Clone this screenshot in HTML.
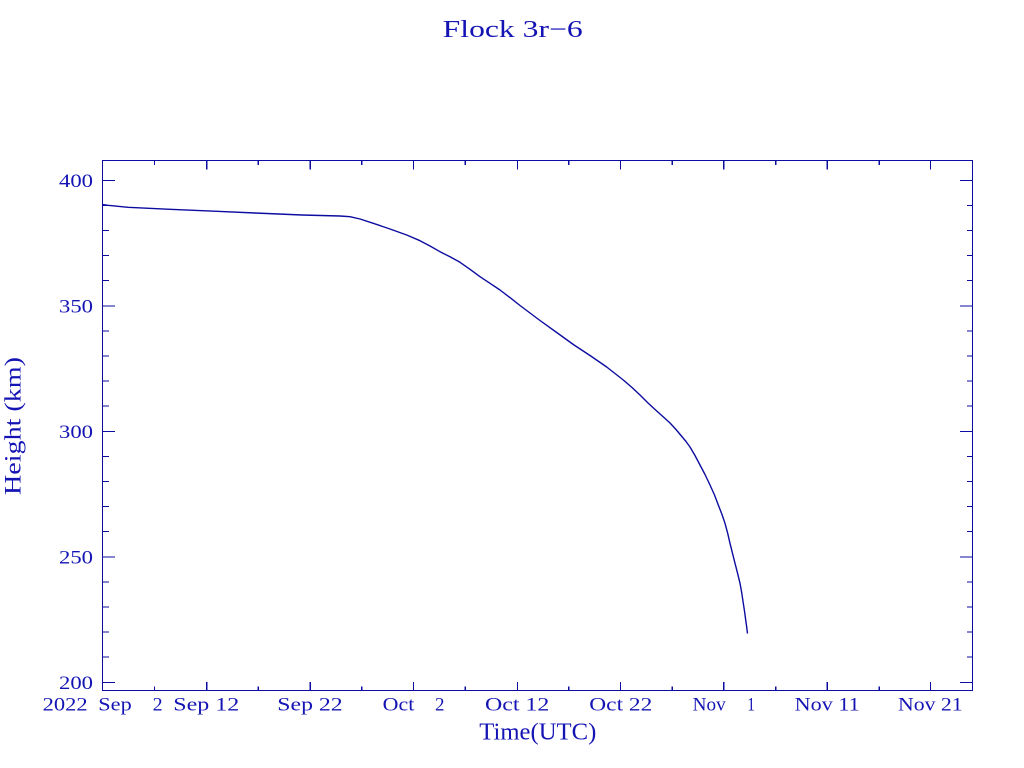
<!DOCTYPE html>
<html>
<head>
<meta charset="utf-8">
<style>
  html, body { margin: 0; padding: 0; background: #ffffff; }
  body { width: 1024px; height: 768px; overflow: hidden; }
  svg { display: block; }
  text { font-family: "Liberation Serif", "DejaVu Serif", serif; fill: #1414b4; }
</style>
</head>
<body>
<svg width="1024" height="768" viewBox="0 0 1024 768" xmlns="http://www.w3.org/2000/svg">
  <rect x="0" y="0" width="1024" height="768" fill="#ffffff"/>

  <!-- Title -->
  <text x="442.7" y="37" font-size="24" textLength="140" lengthAdjust="spacingAndGlyphs">Flock 3r−6</text>

  <!-- Frame -->
  <g stroke="#0c0ca0" stroke-width="1.3" fill="none" shape-rendering="crispEdges">
    <rect x="102.5" y="160.5" width="870" height="530"/>

    <!-- X major ticks (bottom up, top down) -->
    <path d="
      M206.7 690.5 V682 M310.3 690.5 V682 M413.5 690.5 V682 M517.5 690.5 V682
      M620.5 690.5 V682 M723.8 690.5 V682 M827.3 690.5 V682 M930.5 690.5 V682
      M206.7 160.5 V169.5 M310.3 160.5 V169.5 M413.5 160.5 V169.5 M517.5 160.5 V169.5
      M620.5 160.5 V169.5 M723.8 160.5 V169.5 M827.3 160.5 V169.5 M930.5 160.5 V169.5
    "/>
    <!-- X minor ticks -->
    <path d="
      M154.4 690.5 V686.5 M258.3 690.5 V686.5 M361.8 690.5 V686.5 M465.3 690.5 V686.5
      M568.8 690.5 V686.5 M672.3 690.5 V686.5 M775.8 690.5 V686.5 M879.3 690.5 V686.5
      M154.4 160.5 V165 M258.3 160.5 V165 M361.8 160.5 V165 M465.3 160.5 V165
      M568.8 160.5 V165 M672.3 160.5 V165 M775.8 160.5 V165 M879.3 160.5 V165
    "/>

    <!-- Y major ticks -->
    <path d="
      M102.5 180.5 H115 M102.5 306 H115 M102.5 431.5 H115 M102.5 557 H115 M102.5 682.5 H115
      M972.5 180.5 H960 M972.5 306 H960 M972.5 431.5 H960 M972.5 557 H960 M972.5 682.5 H960
    "/>
    <!-- Y minor ticks (every 10 km) -->
    <path d="
      M102.5 205.5 H109 M102.5 230.5 H109 M102.5 255.5 H109 M102.5 280.5 H109
      M102.5 331 H109 M102.5 356 H109 M102.5 381 H109 M102.5 406 H109
      M102.5 456.5 H109 M102.5 481.5 H109 M102.5 506.5 H109 M102.5 531.5 H109
      M102.5 582 H109 M102.5 607 H109 M102.5 632 H109 M102.5 657 H109
      M972.5 205.5 H967 M972.5 230.5 H967 M972.5 255.5 H967 M972.5 280.5 H967
      M972.5 331 H967 M972.5 356 H967 M972.5 381 H967 M972.5 406 H967
      M972.5 456.5 H967 M972.5 481.5 H967 M972.5 506.5 H967 M972.5 531.5 H967
      M972.5 582 H967 M972.5 607 H967 M972.5 632 H967 M972.5 657 H967
    "/>
  </g>

  <!-- Y tick labels -->
  <g font-size="19">
    <text x="59" y="187" textLength="34" lengthAdjust="spacingAndGlyphs">400</text>
    <text x="59" y="312.5" textLength="34" lengthAdjust="spacingAndGlyphs">350</text>
    <text x="59" y="438" textLength="34" lengthAdjust="spacingAndGlyphs">300</text>
    <text x="59" y="563.5" textLength="34" lengthAdjust="spacingAndGlyphs">250</text>
    <text x="59" y="689" textLength="34" lengthAdjust="spacingAndGlyphs">200</text>
  </g>

  <!-- X tick labels -->
  <g font-size="19">
    <text x="42.7" y="710.5" textLength="45" lengthAdjust="spacingAndGlyphs">2022</text>
    <text x="98.3" y="710.5" textLength="33.4" lengthAdjust="spacingAndGlyphs">Sep</text>
    <text x="152.7" y="710.5" textLength="10" lengthAdjust="spacingAndGlyphs">2</text>

    <text x="173.3" y="710.5" textLength="66" lengthAdjust="spacingAndGlyphs">Sep 12</text>
    <text x="277.3" y="710.5" textLength="65.4" lengthAdjust="spacingAndGlyphs">Sep 22</text>

    <text x="382.7" y="710.5" textLength="31.6" lengthAdjust="spacingAndGlyphs">Oct</text>
    <text x="435" y="710.5" textLength="9.5" lengthAdjust="spacingAndGlyphs">2</text>

    <text x="485" y="710.5" textLength="64.3" lengthAdjust="spacingAndGlyphs">Oct 12</text>
    <text x="589.3" y="710.5" textLength="63" lengthAdjust="spacingAndGlyphs">Oct 22</text>

    <text x="692.7" y="710.5" textLength="33" lengthAdjust="spacingAndGlyphs">Nov</text>
    <text x="747.3" y="710.5" textLength="7.7" lengthAdjust="spacingAndGlyphs">1</text>

    <text x="794.7" y="710.5" textLength="65" lengthAdjust="spacingAndGlyphs">Nov 11</text>
    <text x="898" y="710.5" textLength="64.7" lengthAdjust="spacingAndGlyphs">Nov 21</text>
  </g>

  <!-- Axis titles -->
  <text x="479.3" y="739.5" font-size="24" textLength="117" lengthAdjust="spacingAndGlyphs">Time(UTC)</text>
  <text transform="translate(20.5,426) rotate(-90)" x="0" y="0" font-size="23" text-anchor="middle" textLength="138" lengthAdjust="spacingAndGlyphs">Height (km)</text>

  <!-- Data series -->
  <polyline fill="none" stroke="#0c0ca0" stroke-width="1.4" stroke-linejoin="round"
    points="102.5,204.6 108,205.3 128,207.3 170,209.3 217,211.3 255,213 302,215 340,216 350,216.7 360,219 373.3,223.3 390,229 406.7,235 420,240.7 430,246 440,251.7 450,256.8 460,262.3 470,269.3 480,276.7 490,283.3 500,290 510,297.6 520,305.5 530,313 540,320.5 556.7,332.5 573.3,344.5 590,355.5 606.7,367 623.3,380 632,387.5 640,395 648,403 656.7,411 664,417.5 670,423 676,429.5 681,435.5 686,441.5 690,447 695,455.5 700,465 705,474.5 710,485 714.5,495 718.3,505 722,514.5 725,523.3 727.7,533.3 730,543.3 732.5,553.3 735,563.3 737.6,573.3 740,583.3 741.8,593.3 743.3,603.3 744.6,611.7 745.7,620 746.7,627 747.5,633.5"/>
</svg>
</body>
</html>
